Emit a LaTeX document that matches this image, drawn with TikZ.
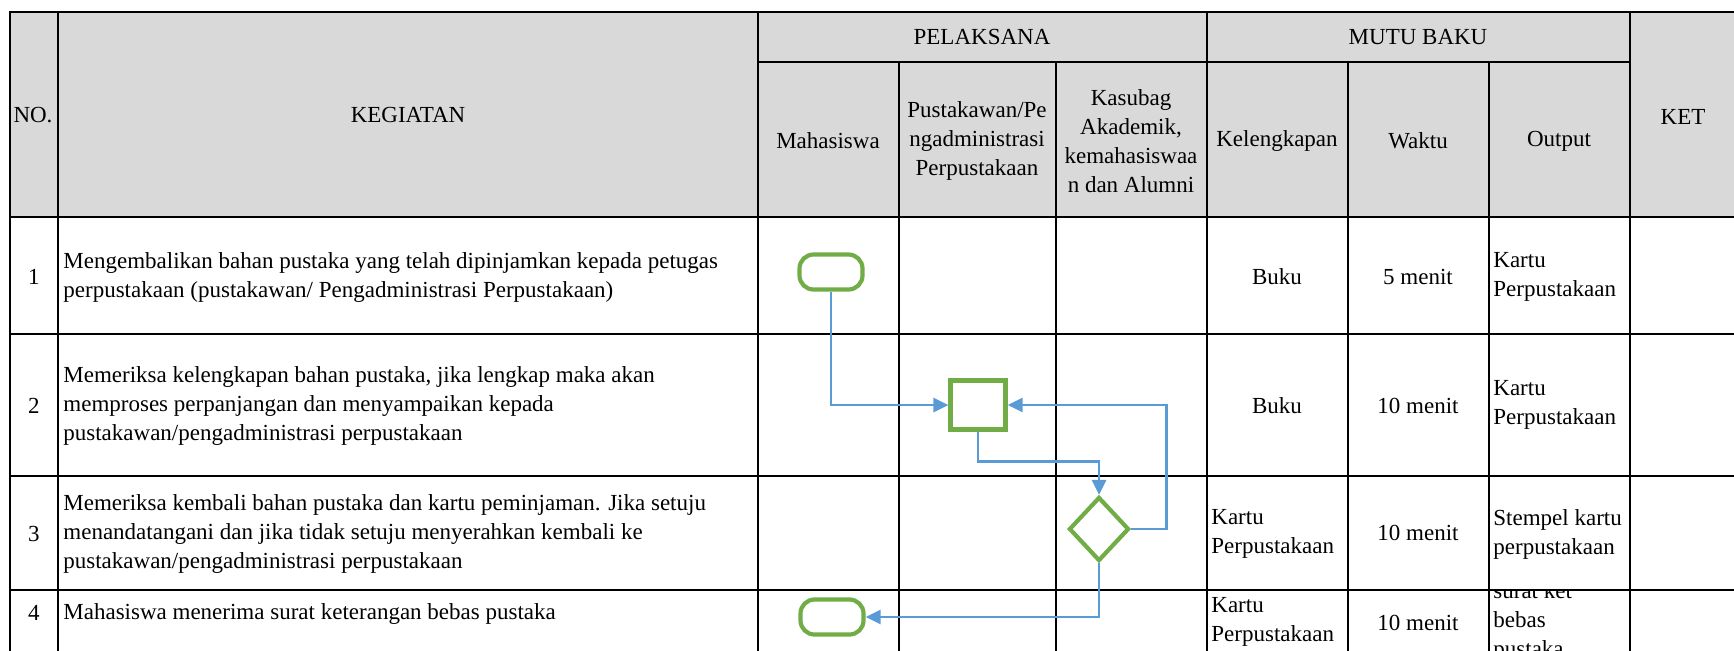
\documentclass[tikz,border=0pt]{standalone}
\usepackage{fontspec}
\setmainfont{Liberation Serif}
\usepackage{color,xcolor}
\usetikzlibrary{shapes.geometric,arrows.meta}
\definecolor{gr}{HTML}{70ad47}
\definecolor{ln}{HTML}{5b9bd5}
\definecolor{hd}{HTML}{d9d9d9}

\begin{document}
\begin{tikzpicture}[x=0.5pt,y=-0.5pt]
          \tikzstyle{every node}=[font=\fontsize{11.5}{14.5}\selectfont,inner sep=0pt]
          \tikzstyle{txt}=[anchor=west,align=left]
          \tikzstyle{ctr}=[align=center]
          \tikzstyle{tline}=[line width=1.45pt,line cap=rect]
          \tikzstyle{term}=[draw=gr,line width=2.1pt,rounded corners=7pt,minimum width=31.5pt,minimum height=17.5pt]
          \tikzstyle{proc}=[draw=gr,line width=2.1pt,minimum width=27.5pt,minimum height=24.5pt]
          \tikzstyle{dec}=[draw=gr,line width=2.1pt,diamond,minimum width=30pt,minimum height=32pt]
          \tikzstyle{flow}=[color=ln,line width=1.4pt,-{Triangle[length=7.5pt,width=7pt]}]
          \useasboundingbox (0,0) rectangle (1734,650);
          \clip (0,0) rectangle (1734,650);
          \fill[color=hd] (10,12) rectangle (1740,217);
          \node[ctr] (no) at (33,115) {NO.};
          \node[ctr] (keg) at (408,115) {KEGIATAN};
          \node[ctr] (pel) at (982,37) {PELAKSANA};
          \node[ctr] (mutu) at (1418,37) {MUTU BAKU};
          \node[ctr] (ket) at (1683,117) {KET};
          \node[ctr] (mhs) at (828,141) {Mahasiswa};
          \node[ctr] (pst) at (977,141) {Pustakawan/Pe\\ngadministrasi\\Perpustakaan};
          \node[ctr] (ksb) at (1131,141) {Kasubag\\Akademik,\\kemahasiswaa\\n dan Alumni};
          \node[ctr] (klk) at (1277,141) {Kelengkapan};
          \node[ctr] (wkt) at (1418,141) {Waktu};
          \node[ctr] (out) at (1559,141) {Output};
          \node (n1) at (34,277) {1};
          \node (n2) at (34,406) {2};
          \node (n3) at (34,534) {3};
          \node (n4) at (34,613) {4};
          \node[txt] (k1) at (63,277) {Mengembalikan bahan pustaka yang telah dipinjamkan kepada petugas\\perpustakaan (pustakawan/ Pengadministrasi Perpustakaan)};
          \node[txt] (k2) at (63,406) {Memeriksa kelengkapan bahan pustaka, jika lengkap maka akan\\memproses perpanjangan dan menyampaikan kepada\\pustakawan/pengadministrasi perpustakaan};
          \node[txt] (k3) at (63,534) {Memeriksa kembali bahan pustaka dan kartu peminjaman. Jika setuju\\menandatangani dan jika tidak setuju menyerahkan kembali ke\\pustakawan/pengadministrasi perpustakaan};
          \node[txt] (k4) at (63,614) {Mahasiswa menerima surat keterangan bebas pustaka};
          \node (l1) at (1277,277) {Buku};
          \node (w1) at (1418,277) {5 menit};
          \node[txt] (o1) at (1493,277) {Kartu\\Perpustakaan};
          \node (l2) at (1277,406) {Buku};
          \node (w2) at (1418,406) {10 menit};
          \node[txt] (o2) at (1493,405) {Kartu\\Perpustakaan};
          \node[txt] (l3) at (1211,534) {Kartu\\Perpustakaan};
          \node (w3) at (1418,533) {10 menit};
          \node[txt] (o3) at (1493,534) {Stempel kartu\\perpustakaan};
          \node[txt] (l4) at (1211,622) {Kartu\\Perpustakaan};
          \node (w4) at (1418,623) {10 menit};
          \begin{scope}
            \clip (1489,590) rectangle (1630,660);
            \node[txt] (o4) at (1493,622) {surat ket\\bebas\\pustaka};
          \end{scope}
          \foreach \y in {12,217,334,476,590} \draw[tline] (10,\y) -- (1740,\y);
          \draw[tline] (758,62) -- (1630,62);
          \foreach \x in {10,58,758,1207,1630} \draw[tline] (\x,12) -- (\x,660);
          \foreach \x in {899,1056,1348,1489} \draw[tline] (\x,62) -- (\x,660);
          \node[term] (s) at (831,272) {};
          \node[proc] (p) at (978,405) {};
          \node[dec] (d) at (1099,529) {};
          \node[term] (e) at (832,617) {};
          \draw[flow] (s.south) |- (p.west);
          \draw[flow] (p.south) -- ++(0,30) -| (d.north);
          \draw[flow] (d.east) -- ++(35,0) |- (p.east);
          \draw[flow] (d.south) |- (e.east);
        \end{tikzpicture}
\end{document}
